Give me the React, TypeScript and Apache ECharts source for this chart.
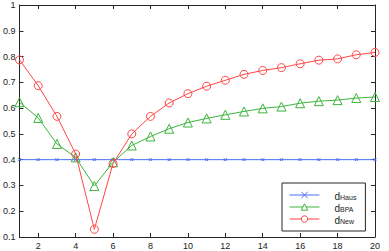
import React, { useEffect, useRef } from "react";
import * as echarts from "echarts";

const xValues = [1, 2, 3, 4, 5, 6, 7, 8, 9, 10, 11, 12, 13, 14, 15, 16, 17, 18, 19, 20];
const hausValues = [0.4, 0.4, 0.4, 0.4, 0.4, 0.4, 0.4, 0.4, 0.4, 0.4, 0.4, 0.4, 0.4, 0.4, 0.4, 0.4, 0.4, 0.4, 0.4, 0.4];
const bpaValues = [0.623, 0.562, 0.461, 0.409, 0.298, 0.39, 0.455, 0.49, 0.52, 0.544, 0.56, 0.574, 0.587, 0.599, 0.606, 0.619, 0.627, 0.631, 0.639, 0.643];
const newValues = [0.787, 0.687, 0.568, 0.422, 0.13, 0.385, 0.5, 0.568, 0.62, 0.656, 0.685, 0.708, 0.731, 0.746, 0.757, 0.772, 0.786, 0.791, 0.807, 0.816];
const xTicks = [2, 4, 6, 8, 10, 12, 14, 16, 18, 20];
const yTicks = [0.1, 0.2, 0.3, 0.4, 0.5, 0.6, 0.7, 0.8, 0.9, 1];
const seriesNames = ["Haus", "BPA", "New"];

const BLUE = "#4a6cf5";
const GREEN = "#3cb43c";
const RED = "#ff4545";
const AXIS = "#262626";
const FONT = "Liberation Sans, Arial, sans-serif";

export default function App() {
  const ref = useRef<HTMLDivElement>(null);
  useEffect(() => {
    if (!ref.current) return;
    const chart = echarts.init(ref.current, undefined, { renderer: "svg" });
    const pairs = (ys: number[]) => xValues.map((x, i) => [x, ys[i]]);
    const axisBase = (pos: string, ticks: number[], showLabel: boolean, isY: boolean) => ({
      type: "value",
      position: pos,
      min: isY ? 0.1 : 1,
      max: isY ? 1 : 20,
      axisLine: { show: true, onZero: false, lineStyle: { color: AXIS, width: 1 } },
      axisTick: { show: true, inside: true, length: 4, customValues: ticks, lineStyle: { color: AXIS } },
      axisLabel: {
        show: showLabel,
        customValues: ticks,
        margin: 4,
        fontSize: 9,
        color: "#222",
        fontFamily: FONT,
        formatter: (v: number) => String(+v.toFixed(1)),
      },
      splitLine: { show: false },
    });
    chart.setOption({
      animation: false,
      grid: { left: 16, right: 14, top: 5, bottom: 14 },
      xAxis: [axisBase("bottom", xTicks, true, false), axisBase("top", xTicks, false, false)],
      yAxis: [axisBase("left", yTicks, true, true), axisBase("right", yTicks, false, true)],
      legend: {
        orient: "vertical",
        left: 282,
        top: 183,
        padding: [6, 9, 6, 7],
        itemGap: 0,
        itemWidth: 30,
        itemHeight: 8,
        borderColor: AXIS,
        borderWidth: 1,
        borderRadius: 0,
        backgroundColor: "#fff",
        itemStyle: { color: "#fff", borderWidth: 1 },
        lineStyle: { width: 1 },
        data: seriesNames,
        formatter: (name: string) => `{d|d}{s|${name}}`,
        textStyle: {
          fontSize: 10,
          lineHeight: 12,
          padding: [0, 0, 0, 10],
          rich: {
            d: { fontSize: 10, fontFamily: FONT, color: "#222", lineHeight: 12, verticalAlign: "bottom" },
            s: { fontSize: 7, fontFamily: FONT, color: "#222", lineHeight: 8, verticalAlign: "bottom", padding: [4, 0, 0, 0] },
          },
        },
      },
      series: [
        {
          name: "Haus",
          type: "line",
          data: pairs(hausValues),
          symbol: "path://M0,0L10,10M10,0L0,10",
          symbolSize: 3,
          lineStyle: { color: BLUE, width: 1 },
          itemStyle: { color: "none", borderColor: BLUE, borderWidth: 1 },
          z: 1,
        },
        {
          name: "BPA",
          type: "line",
          data: pairs(bpaValues),
          symbol: "triangle",
          symbolSize: 9,
          lineStyle: { color: GREEN, width: 1 },
          itemStyle: { color: "none", borderColor: GREEN, borderWidth: 1 },
          z: 2,
        },
        {
          name: "New",
          type: "line",
          data: pairs(newValues),
          symbol: "circle",
          symbolSize: 8,
          lineStyle: { color: RED, width: 1 },
          itemStyle: { color: "none", borderColor: RED, borderWidth: 1 },
          z: 3,
        },
      ],
    });
    return () => chart.dispose();
  }, []);
  return <div ref={ref} style={{ position: "fixed", left: 0, top: 0, width: 389, height: 251, background: "#fff" }} />;
}
